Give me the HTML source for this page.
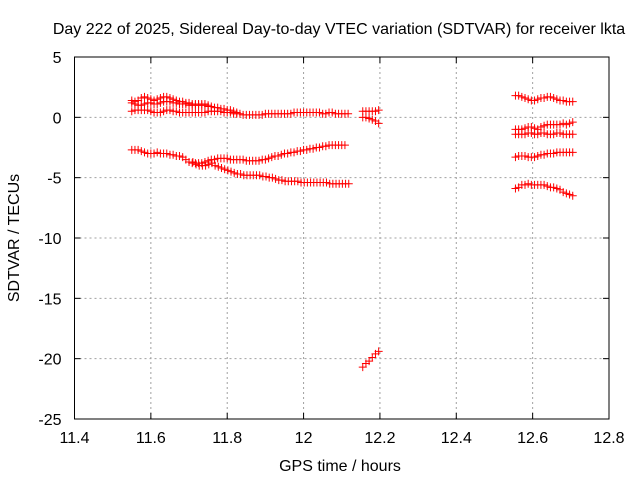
<!DOCTYPE html>
<html><head><meta charset="utf-8"><style>body{margin:0;background:#fff}svg{display:block;font-family:"Liberation Sans",sans-serif}</style></head>
<body>
<svg id="chart" width="640" height="480">
<text x="339" y="34" text-anchor="middle" font-size="16">Day 222 of 2025, Sidereal Day-to-day VTEC variation (SDTVAR) for receiver lkta</text>
<text x="340" y="471" text-anchor="middle" font-size="16">GPS time / hours</text>
<text transform="translate(19,238) rotate(-90)" text-anchor="middle" font-size="16">SDTVAR / TECUs</text>
<g id="grid"></g><g id="ticks"></g><g id="marks"></g>
<rect x="74.5" y="57" width="534.5" height="362" fill="none" stroke="#000"/>
</svg>
<script>
const xTicks=[11.4,11.6,11.8,12,12.2,12.4,12.6,12.8];
const xTickLabels=["11.4","11.6","11.8","12","12.2","12.4","12.6","12.8"];
const yTicks=[5,0,-5,-10,-15,-20,-25];
const yTickLabels=["5","0","-5","-10","-15","-20","-25"];
const dt=1/120;
const seriesStarts=[11.55,11.55,11.55,11.55,11.71,12.155,12.155,12.155,12.555,12.555,12.555,12.555,12.555];
const sA=[1.4,1.3,1.4,1.6,1.7,1.6,1.5,1.4,1.5,1.6,1.7,1.7,1.6,1.5,1.4,1.3,1.3,1.2,1.2,1.1,1.1,1.1,1.0,1.0,0.9,0.9,0.8,0.8,0.7,0.7,0.6,0.6,0.5,0.4,0.3,0.2,0.2,0.2,0.2,0.2,0.2,0.2,0.3,0.3,0.3,0.3,0.3,0.3,0.3,0.3,0.3,0.4,0.4,0.4,0.4,0.4,0.4,0.4,0.4,0.4,0.3,0.3,0.4,0.4,0.3,0.3,0.3,0.3,0.3];
const sB=[0.5,0.6,0.6,0.6,0.6,0.6,0.5,0.4,0.4,0.4,0.5,0.6,0.6,0.5,0.5,0.4,0.4,0.4,0.4,0.4,0.4,0.4,0.4,0.4,0.5,0.5,0.5,0.5,0.5,0.4,0.4,0.4,0.3,0.3];
const sB2=[1.2,1.1,1.0,1.0,1.1,1.2,1.2,1.1,1.1,1.2,1.3,1.3,1.3,1.2,1.2,1.1,1.1,1.1,1.0,1.0,1.0,1.0,1.1,1.1,1.0];
const sC=[-2.7,-2.7,-2.7,-2.8,-2.9,-3.0,-3.0,-3.0,-2.9,-3.0,-3.0,-3.0,-3.1,-3.1,-3.2,-3.2,-3.3,-3.5,-3.7,-3.8,-3.8,-3.8,-3.8,-3.7,-3.6,-3.5,-3.5,-3.4,-3.4,-3.4,-3.4,-3.5,-3.5,-3.5,-3.5,-3.5,-3.6,-3.6,-3.6,-3.6,-3.6,-3.5,-3.5,-3.4,-3.3,-3.2,-3.2,-3.1,-3.0,-3.0,-2.9,-2.9,-2.8,-2.8,-2.7,-2.7,-2.6,-2.6,-2.5,-2.5,-2.4,-2.4,-2.3,-2.3,-2.3,-2.3,-2.3,-2.3];
const sD=[-3.7,-3.9,-4.0,-4.0,-4.0,-3.9,-3.8,-4.0,-4.1,-4.2,-4.3,-4.4,-4.5,-4.6,-4.7,-4.7,-4.8,-4.8,-4.8,-4.8,-4.8,-4.8,-4.9,-4.9,-5.0,-5.0,-5.1,-5.2,-5.2,-5.3,-5.3,-5.3,-5.3,-5.3,-5.4,-5.4,-5.4,-5.4,-5.4,-5.4,-5.4,-5.4,-5.4,-5.5,-5.5,-5.5,-5.5,-5.5,-5.5,-5.5];
const sE=[0.5,0.5,0.5,0.5,0.5,0.6];
const sF=[0.0,0.0,-0.1,-0.2,-0.3,-0.5];
const sG=[-20.7,-20.4,-20.2,-19.9,-19.6,-19.4];
const sR1=[1.8,1.8,1.7,1.6,1.5,1.4,1.4,1.5,1.6,1.6,1.7,1.7,1.6,1.5,1.4,1.4,1.3,1.3,1.3];
const sR2=[-1.0,-1.0,-1.0,-0.9,-0.8,-0.8,-0.9,-1.0,-0.8,-0.7,-0.6,-0.6,-0.6,-0.6,-0.6,-0.5,-0.6,-0.5,-0.4];
const sR3=[-1.4,-1.4,-1.4,-1.4,-1.3,-1.3,-1.4,-1.4,-1.3,-1.3,-1.4,-1.4,-1.4,-1.3,-1.3,-1.4,-1.4,-1.4,-1.4];
const sR4=[-3.3,-3.2,-3.2,-3.2,-3.3,-3.3,-3.3,-3.2,-3.1,-3.1,-3.0,-3.0,-3.0,-2.9,-2.9,-2.9,-2.9,-2.9,-2.9];
const sR5=[-5.9,-5.8,-5.6,-5.6,-5.5,-5.6,-5.6,-5.6,-5.6,-5.6,-5.7,-5.8,-5.8,-5.9,-6.0,-6.2,-6.3,-6.4,-6.5];
const allSeries=[sA,sB,sB2,sC,sD,sE,sF,sG,sR1,sR2,sR3,sR4,sR5];

const X0=74.5,X1=609,Y0=419,Y1=57;
function xs(v){return X0+(v-11.4)/(12.8-11.4)*(X1-X0);}
function ys(v){return Y0-(v+25)/30*(Y0-Y1);}
const NS="http://www.w3.org/2000/svg";
function mk(tag,attrs,parent){const e=document.createElementNS(NS,tag);for(const k in attrs)e.setAttribute(k,attrs[k]);parent.appendChild(e);return e;}
const grid=document.getElementById('grid'),ticks=document.getElementById('ticks'),marks=document.getElementById('marks');
xTicks.forEach((t,i)=>{const x=xs(t);
 if(i>0&&i<xTicks.length-1){const g=mk('line',{x1:x,x2:x,y1:Y0,y2:Y1,stroke:'#a0a0a0','stroke-dasharray':'2,3'},grid);
 
 }
 mk('line',{x1:x,x2:x,y1:Y0,y2:Y0-6,stroke:'#000'},ticks);
 mk('line',{x1:x,x2:x,y1:Y1,y2:Y1+6,stroke:'#000'},ticks);
 const l=mk('text',{x:x,y:Y0+24,'text-anchor':'middle','font-size':16},ticks);l.textContent=xTickLabels[i];
 
 
});
yTicks.forEach((t,i)=>{const y=ys(t);
 if(i>0&&i<yTicks.length-1){const g=mk('line',{x1:X0,x2:X1,y1:y,y2:y,stroke:'#a0a0a0','stroke-dasharray':'2,3'},grid);
 
 }
 mk('line',{x1:X0,x2:X0+6,y1:y,y2:y,stroke:'#000'},ticks);
 mk('line',{x1:X1,x2:X1-6,y1:y,y2:y,stroke:'#000'},ticks);
 const l=mk('text',{x:X0-13,y:y+6,'text-anchor':'end','font-size':16},ticks);l.textContent=yTickLabels[i];
 
 
});
allSeries.forEach((s,si)=>{
 const g=mk('g',{stroke:'#f00','stroke-width':1},marks);
 
 
 s.forEach((v,i)=>{const x=xs(seriesStarts[si]+i*dt),y=ys(v);
  const p=mk('path',{d:`M${x-4},${y}H${x+4}M${x},${y-4}V${y+4}`},g);
  
  
 });
});
</script>
</body></html>
